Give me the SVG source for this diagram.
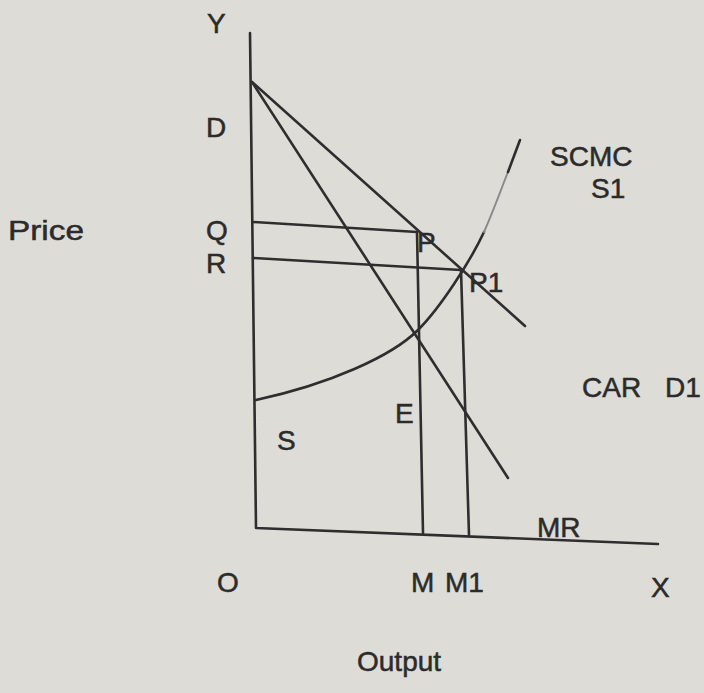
<svg xmlns="http://www.w3.org/2000/svg" width="704" height="693" viewBox="0 0 704 693">
<style>
.ln{fill:none;stroke:#2e2e2e;stroke-width:2.6;stroke-linecap:round;stroke-linejoin:round}
.t{font-family:"Liberation Sans",Arial,sans-serif;font-size:28px;fill:#2b2b2b;stroke:#2b2b2b;stroke-width:0.5}
</style>
<rect width="704" height="693" fill="#dddcd7"/>
<g id="axes">
<polyline class="ln" points="250,33 256,528 658,544"/>
</g>
<g id="curves">
<line class="ln" x1="252" y1="82" x2="525" y2="326"/>
<line class="ln" x1="252" y1="82" x2="508" y2="478"/>
<line class="ln" x1="253" y1="222" x2="417" y2="232"/>
<line class="ln" x1="253" y1="258" x2="461" y2="270"/>
<line class="ln" x1="417" y1="232" x2="423" y2="533"/>
<line class="ln" x1="461" y1="270" x2="469" y2="535"/>
<path class="ln" d="M256,400 C330,384 392,356 418,330 C440,308 470,262 484,232"/>
<path d="M484,232 C493,212 500,192 508,172" fill="none" stroke="#8a8a8a" stroke-width="2" stroke-linecap="round"/>
<line class="ln" x1="508" y1="172" x2="520" y2="140"/>
</g>
<g id="labels">
<text class="t" x="207" y="33">Y</text>
<text class="t" x="206" y="137">D</text>
<text class="t" x="206" y="240">Q</text>
<text class="t" x="206" y="273">R</text>
<text class="t" x="8" y="240" textLength="76" lengthAdjust="spacingAndGlyphs">Price</text>
<text class="t" x="417" y="252">P</text>
<text class="t" x="469" y="292">P1</text>
<text class="t" x="550" y="166">SCMC</text>
<text class="t" x="591" y="198">S1</text>
<text class="t" x="582" y="397">CAR</text>
<text class="t" x="665" y="397">D1</text>
<text class="t" x="395" y="423">E</text>
<text class="t" x="277" y="450">S</text>
<text class="t" x="537" y="537">MR</text>
<text class="t" x="217" y="592">O</text>
<text class="t" x="411" y="592">M</text>
<text class="t" x="445" y="592">M1</text>
<text class="t" x="651" y="597">X</text>
<text class="t" x="357" y="671">Output</text>
</g>
</svg>
